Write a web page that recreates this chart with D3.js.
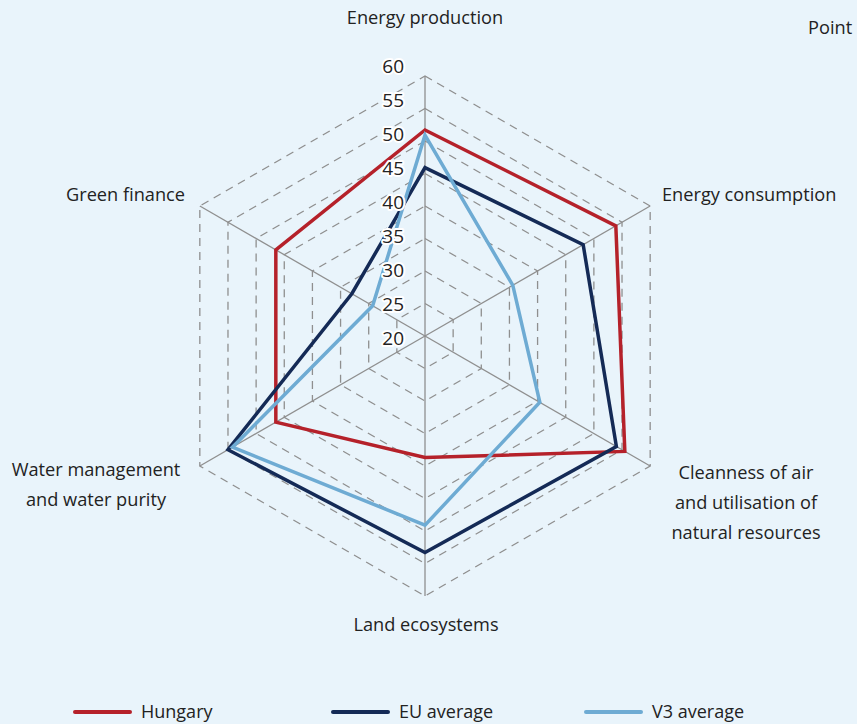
<!DOCTYPE html>
<html>
<head>
<meta charset="utf-8">
<script src="https://cdn.jsdelivr.net/npm/d3@7"></script>
<style>
  html, body { margin: 0; padding: 0; background: #e9f4fb; }
  svg { display: block; font-family: "Open Sans", sans-serif; }
</style>
</head>
<body>
<div id="chart"></div>
<script>
// axes of the radar, clockwise from top
const axes = [
  ["Energy production"],
  ["Energy consumption"],
  ["Cleanness of air", "and utilisation of", "natural resources"],
  ["Land ecosystems"],
  ["Water management", "and water purity"],
  ["Green finance"]
];
const hungary = [51.7, 53.9, 55.5, 38.7, 46.5, 46.5];
const euAverage = [45.9, 48.1, 54.0, 53.3, 55.0, 33.0];
const v3Average = [50.9, 35.6, 40.4, 49.1, 54.2, 29.3];
const ticks = [20, 25, 30, 35, 40, 45, 50, 55, 60];

const series = [
  { name: "Hungary", values: hungary, color: "#b5212a" },
  { name: "EU average", values: euAverage, color: "#142a56" },
  { name: "V3 average", values: v3Average, color: "#6eabd3" }
];

const width = 857, height = 724;
const cx = 425, cy = 336;

const svg = d3.select("#chart").append("svg")
  .attr("width", width)
  .attr("height", height);

const r = d3.scaleLinear().domain([20, 60]).range([0, 260]);
const angle = i => i * Math.PI / 3; // clockwise from top
const pt = (i, v) => [cx + r(v) * Math.sin(angle(i)), cy - r(v) * Math.cos(angle(i))];

const g = svg.append("g");

// dashed hexagon rings
ticks.slice(1).forEach(t => {
  g.append("path")
    .attr("d", d3.line()(axes.map((a, i) => pt(i, t))) + "Z")
    .attr("fill", "none")
    .attr("stroke", "#8f8f8f")
    .attr("stroke-width", 1.3)
    .attr("stroke-dasharray", "8,6");
});

// spokes
axes.forEach((a, i) => {
  const [x, y] = pt(i, 60);
  g.append("line")
    .attr("x1", cx).attr("y1", cy)
    .attr("x2", x).attr("y2", y)
    .attr("stroke", "#8f8f8f")
    .attr("stroke-width", 1.3);
});

// series lines
series.forEach(s => {
  g.append("path")
    .attr("d", d3.line()(s.values.map((v, i) => pt(i, v))) + "Z")
    .attr("fill", "none")
    .attr("stroke", s.color)
    .attr("stroke-width", 3.5)
    .attr("stroke-linejoin", "miter");
});

// tick labels (Excel spaces them a bit wider than the rings)
const labelY = d3.scaleLinear().domain([20, 60]).range([338, 66]);
svg.append("g").selectAll("text")
  .data(ticks)
  .join("text")
  .attr("x", 404)
  .attr("y", d => labelY(d))
  .attr("dy", "0.35em")
  .attr("text-anchor", "end")
  .attr("font-size", 19)
  .attr("fill", "#222")
  .attr("stroke", "#fff")
  .attr("stroke-width", 4)
  .attr("stroke-linejoin", "round")
  .attr("paint-order", "stroke")
  .text(d => d);

// axis labels
const labelPos = [
  { x: 425, y: 18, anchor: "middle" },
  { x: 662, y: 195, anchor: "start" },
  { x: 746, y: 473, anchor: "middle" },
  { x: 426, y: 625, anchor: "middle" },
  { x: 96, y: 470, anchor: "middle" },
  { x: 185, y: 195, anchor: "end" }
];
axes.forEach((lines, i) => {
  const p = labelPos[i];
  const t = svg.append("text")
    .attr("x", p.x)
    .attr("y", p.y)
    .attr("text-anchor", p.anchor)
    .attr("font-size", 18.2)
    .attr("fill", "#222");
  lines.forEach((l, k) => {
    t.append("tspan")
      .attr("x", p.x)
      .attr("y", p.y + k * 30)
      .attr("dy", "0.35em")
      .text(l);
  });
});

svg.append("text")
  .attr("x", 808).attr("y", 28)
  .attr("dy", "0.35em")
  .attr("font-size", 18.2)
  .attr("fill", "#222")
  .text("Point");

// legend
const legendX = [75, 333, 586];
const legend = svg.append("g").selectAll("g")
  .data(series)
  .join("g")
  .attr("transform", (d, i) => `translate(${legendX[i]},712)`);
legend.append("line")
  .attr("x1", 0).attr("x2", 55)
  .attr("stroke", d => d.color)
  .attr("stroke-width", 4)
  .attr("stroke-linecap", "round");
legend.append("text")
  .attr("x", 66)
  .attr("dy", "0.35em")
  .attr("font-size", 18)
  .attr("fill", "#222")
  .text(d => d.name);
</script>
</body>
</html>
